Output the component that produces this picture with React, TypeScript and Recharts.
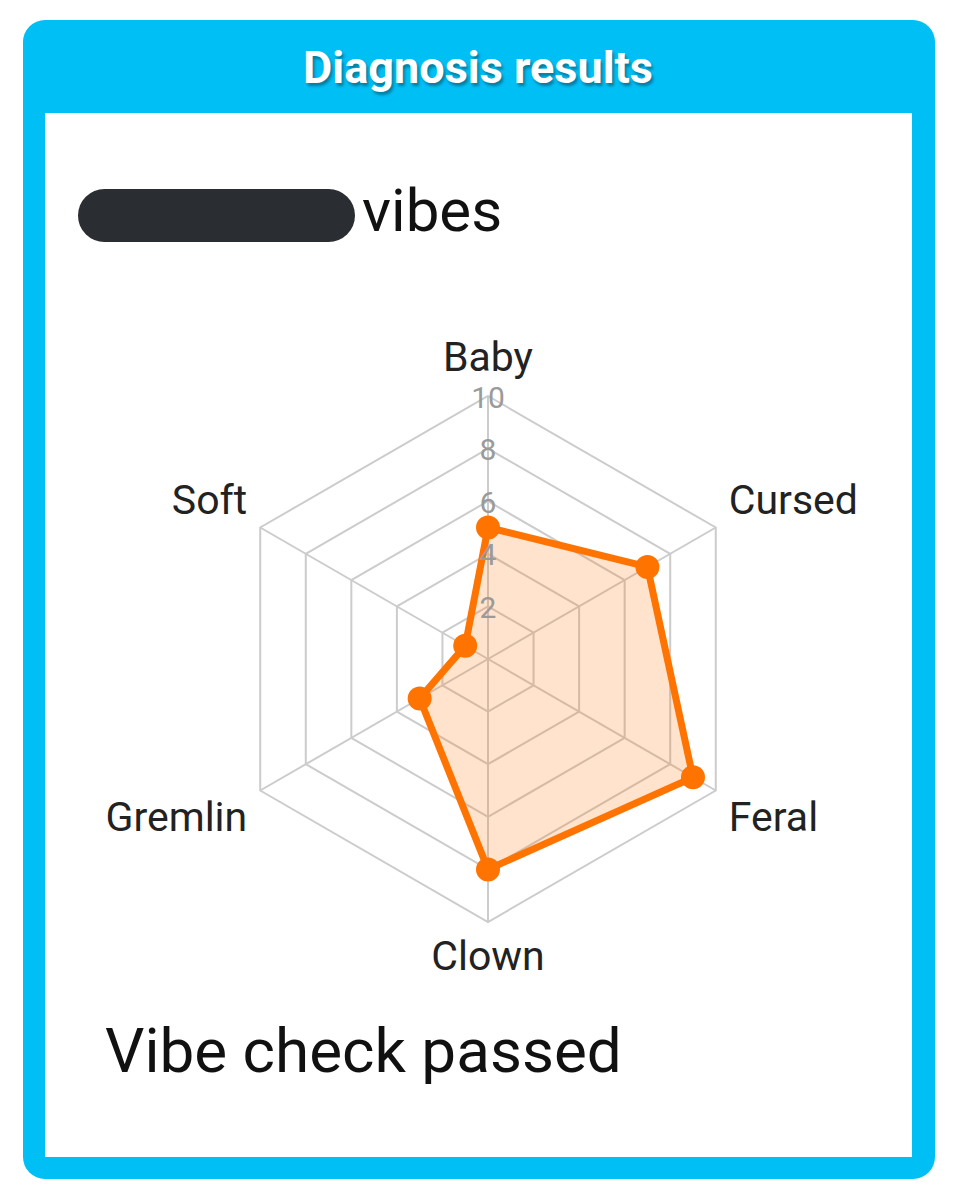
import React from "react";
import { RadarChart, Radar, PolarGrid, PolarAngleAxis, PolarRadiusAxis } from "recharts";

const categories = ["Baby", "Cursed", "Feral", "Clown", "Gremlin", "Soft"];
const scores = [5, 7, 9, 8, 3, 1];
const radiusTicks = [0, 2, 4, 6, 8, 10];

const data = categories.map((name, i) => ({ name, value: scores[i] }));

const CX = 488;
const CY = 659;
const R = 263;
const ORANGE = "#ff7300";
const BLUE = "#00bff5";

const renderAngleTick = (props: any) => {
  const { payload } = props;
  const ang = (payload.coordinate * Math.PI) / 180;
  const vx = CX + R * Math.cos(ang);
  const vy = CY - R * Math.sin(ang);
  const c = Math.cos(ang);
  const s = Math.sin(ang);
  let x = vx;
  let y = vy;
  let anchor: "start" | "middle" | "end" = "middle";
  if (Math.abs(c) < 0.1) {
    y = s > 0 ? vy - 39 : vy + 34;
  } else {
    anchor = c > 0 ? "start" : "end";
    x = c > 0 ? vx + 13 : vx - 13;
    y = s > 0 ? vy - 28 : vy + 26;
  }
  return (
    <text
      key={`a-${payload.value}`}
      x={x}
      y={y}
      textAnchor={anchor}
      dominantBaseline="central"
      style={{ fontFamily: "Roboto", fontSize: 41, fill: "#222" }}
    >
      {payload.value}
    </text>
  );
};

const renderRadiusTick = (props: any) => {
  const { x, y, payload } = props;
  if (payload.value === 0) return <g key="r0" />;
  return (
    <text
      key={`r-${payload.value}`}
      x={x}
      y={y + 1}
      textAnchor="middle"
      dominantBaseline="central"
      style={{ fontFamily: "Roboto", fontSize: 30, fill: "#9a9a9a" }}
    >
      {payload.value}
    </text>
  );
};

export default function App() {
  return (
    <div style={{ position: "absolute", left: 0, top: 0, width: 956, height: 1200, background: "#fff", fontFamily: "Roboto" }}>
      <div
        style={{
          position: "absolute",
          left: 23,
          top: 20,
          width: 912,
          height: 1159,
          background: BLUE,
          borderRadius: 22,
        }}
      />
      <div
        style={{
          position: "absolute",
          left: 23,
          top: 20,
          width: 912,
          height: 95,
          display: "flex",
          alignItems: "center",
          justifyContent: "center",
          color: "#fff",
          fontWeight: 700,
          fontSize: 45,
          textShadow: "2px 3px 3px rgba(0,0,0,0.35)",
        }}
      >
        <span style={{ marginLeft: -2 }}>Diagnosis results</span>
      </div>
      <div
        style={{
          position: "absolute",
          left: 45,
          top: 113,
          width: 867,
          height: 1044,
          background: "#fff",
        }}
      />
      <div
        style={{
          position: "absolute",
          left: 78,
          top: 189,
          width: 277,
          height: 53,
          background: "#2a2d31",
          borderRadius: 27,
        }}
      />
      <div
        style={{
          position: "absolute",
          left: 362,
          top: 237 - 60 * 0.93,
          fontSize: 60,
          lineHeight: "60px",
          color: "#111",
          whiteSpace: "nowrap",
        }}
      >
        vibes
      </div>
      <div
        style={{
          position: "absolute",
          left: 105,
          top: 1078 - 62 * 0.93,
          fontSize: 62,
          lineHeight: "62px",
          color: "#111",
          whiteSpace: "nowrap",
        }}
      >
        Vibe check passed
      </div>
      <div style={{ position: "absolute", left: 0, top: 0 }}>
        <RadarChart
          width={956}
          height={1200}
          cx={CX}
          cy={CY}
          outerRadius={R}
          data={data}
          margin={{ top: 0, right: 0, bottom: 0, left: 0 }}
        >
          <PolarGrid gridType="polygon" stroke="#cccccc" strokeWidth={2} />
          <PolarAngleAxis dataKey="name" tick={renderAngleTick} axisLine={false} tickLine={false} />
          <PolarRadiusAxis
            angle={90}
            domain={[0, 10]}
            ticks={radiusTicks as any}
            tickCount={6}
            axisLine={false}
            tickLine={false}
            tick={renderRadiusTick}
          />
          <Radar
            dataKey="value"
            stroke={ORANGE}
            strokeWidth={7}
            fill={ORANGE}
            fillOpacity={0.2}
            dot={{ r: 12, fill: ORANGE, stroke: "none", fillOpacity: 1 }}
            isAnimationActive={false}
          />
        </RadarChart>
      </div>
    </div>
  );
}
